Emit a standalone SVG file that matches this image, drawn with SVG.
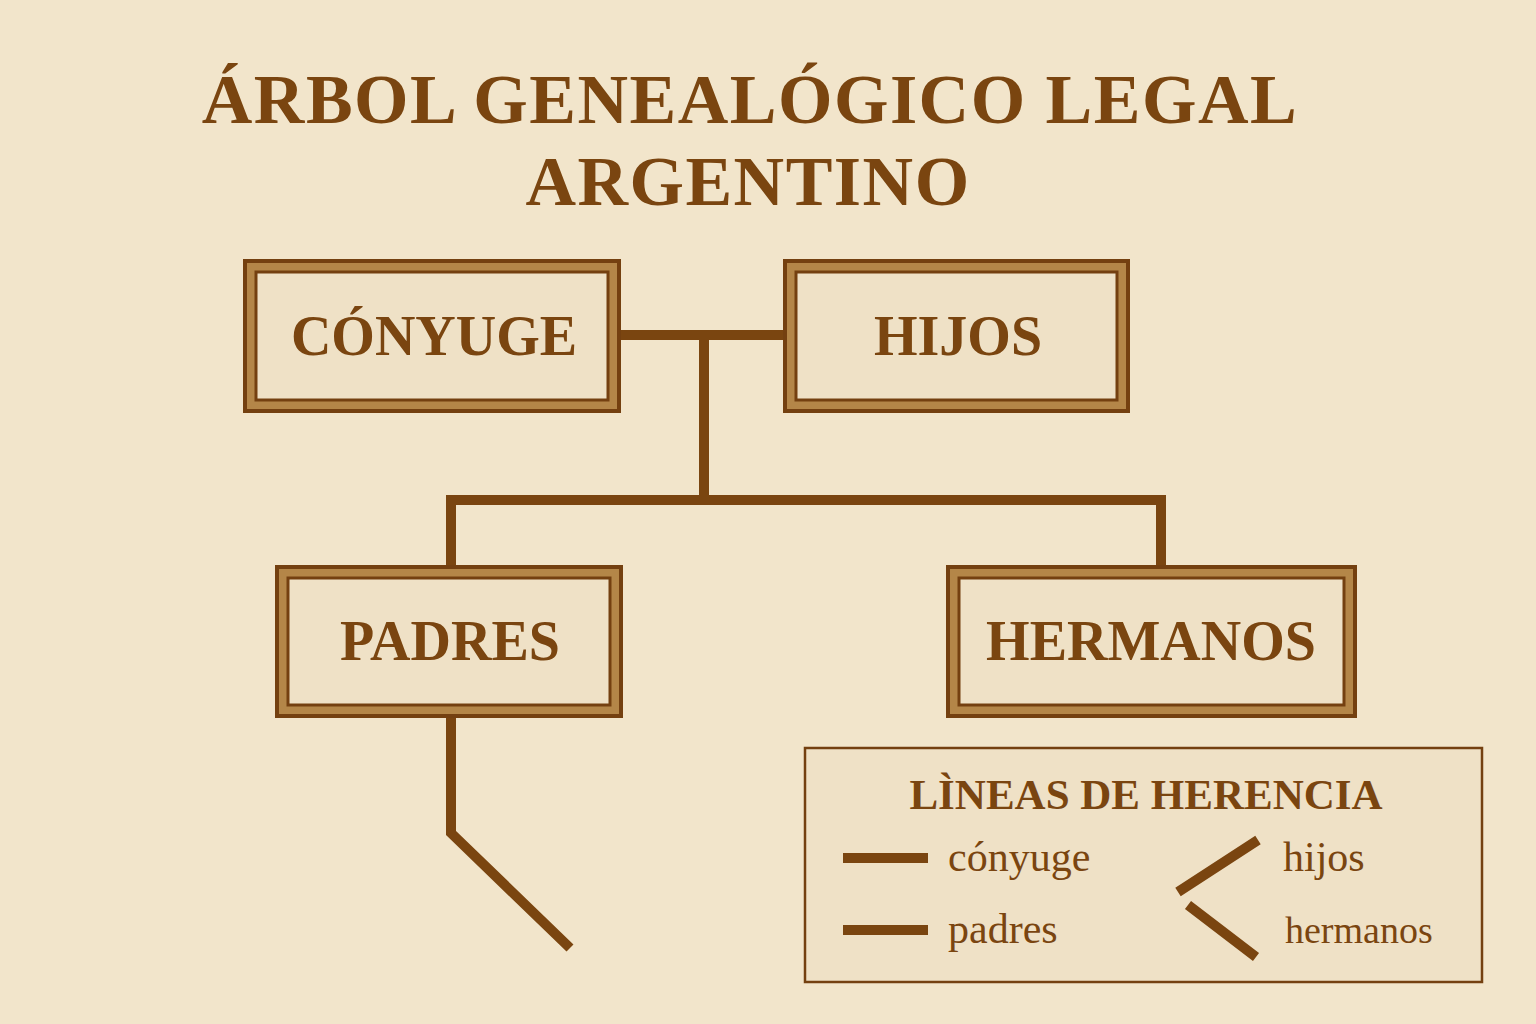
<svg xmlns="http://www.w3.org/2000/svg" width="1536" height="1024" viewBox="0 0 1536 1024">
<style>
.t{font-family:"Liberation Serif","DejaVu Serif",serif;fill:#7a4510;text-anchor:middle}
.ln{stroke:#7a4510;stroke-width:10;fill:none;stroke-linecap:butt}
.fo{fill:#b48648;stroke:#744010;stroke-width:4}
.fi{fill:#efe1c6;stroke:#744010;stroke-width:3}
</style>
<rect width="1536" height="1024" fill="#f2e5cb"/>
<g id="title">
<text class="t" x="750" y="123" font-size="70" font-weight="bold" letter-spacing="1.5">ÁRBOL GENEALÓGICO LEGAL</text>
<text class="t" x="748" y="205" font-size="70" font-weight="bold" letter-spacing="1.5">ARGENTINO</text>
</g>
<g id="connectors">
<path class="ln" d="M620 335H783M704 335V500M446 500H1166M451 500V565M1161 500V565M451 717V833L570 948"/>
</g>
<g id="conyuge">
<rect class="fo" x="245" y="261" width="374" height="150"/>
<rect class="fi" x="256" y="272" width="352" height="128"/>
<text class="t" x="434" y="355" font-size="56" font-weight="bold">CÓNYUGE</text>
</g>
<g id="hijos">
<rect class="fo" x="785" y="261" width="343" height="150"/>
<rect class="fi" x="796" y="272" width="321" height="128"/>
<text class="t" x="958" y="355" font-size="56" font-weight="bold">HIJOS</text>
</g>
<g id="padres">
<rect class="fo" x="277" y="567" width="344" height="149"/>
<rect class="fi" x="288" y="578" width="322" height="127"/>
<text class="t" x="450" y="660" font-size="56" font-weight="bold">PADRES</text>
</g>
<g id="hermanos">
<rect class="fo" x="948" y="567" width="407" height="149"/>
<rect class="fi" x="959" y="578" width="385" height="127"/>
<text class="t" x="1151" y="660" font-size="56" font-weight="bold">HERMANOS</text>
</g>
<g id="legend">
<rect x="805" y="748" width="677" height="234" fill="#efe1c6" stroke="#744010" stroke-width="2.5"/>
<text class="t" x="1146" y="809" font-size="43" font-weight="bold">LÌNEAS DE HERENCIA</text>
<path class="ln" d="M843 858H928M843 930H928M1258 840L1178 892M1188 905L1256 957"/>
<text class="t" x="948" y="871" font-size="42" style="text-anchor:start">cónyuge</text>
<text class="t" x="948" y="943" font-size="42" style="text-anchor:start">padres</text>
<text class="t" x="1283" y="871" font-size="42" style="text-anchor:start">hijos</text>
<text class="t" x="1285" y="943" font-size="38" style="text-anchor:start">hermanos</text>
</g>
</svg>
